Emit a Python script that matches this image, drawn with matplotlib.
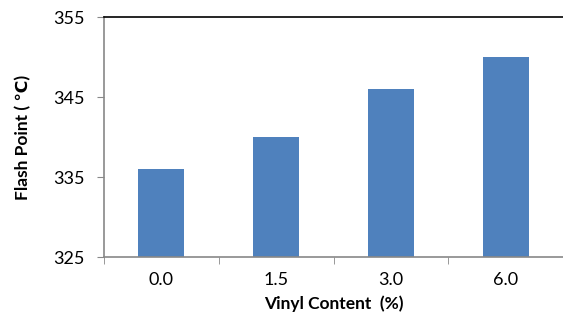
import matplotlib

matplotlib.use("Agg")
import matplotlib.pyplot as plt
import numpy as np

categories = ["0.0", "1.5", "3.0", "6.0"]
flash_point = [336, 340, 346, 350]
y_ticks = [325, 335, 345, 355]

fonts = ["Lato", "DejaVu Sans"]
plt.rcParams["font.family"] = fonts

fig = plt.figure(figsize=(5.63, 3.24), dpi=100)
ax = fig.add_axes([104 / 563, 1 - 257 / 324, (563 - 104) / 563, 240 / 324])

x = np.arange(len(categories))
ax.bar(x, flash_point, width=0.4, color="#4F81BD")

ax.set_xlim(-0.5, len(categories) - 0.5)
ax.set_ylim(y_ticks[0], y_ticks[-1])
ax.set_yticks(y_ticks)
ax.set_xticks(x)
ax.set_xticklabels(categories)
ax.set_xticks(np.arange(len(categories) + 1) - 0.5, minor=True)

ax.tick_params(axis="x", which="major", length=0, pad=11, labelsize=13)
ax.tick_params(axis="x", which="minor", length=5, color="#888888", direction="out")
ax.tick_params(axis="y", length=5, color="#888888", direction="out", labelsize=13, pad=9)

for side in ("left", "bottom"):
    ax.spines[side].set_color("#888888")
    ax.spines[side].set_linewidth(1.2)
ax.spines["top"].set_color("black")
ax.spines["top"].set_linewidth(1.2)
ax.spines["right"].set_visible(False)

ax.set_xlabel("Vinyl Content  (%)", fontsize=12.5, fontweight="bold", labelpad=5)
ax.set_ylabel("Flash Point ( ℃)", fontsize=12.5, fontweight="bold", labelpad=16)

fig.savefig("out.png", dpi=100)
